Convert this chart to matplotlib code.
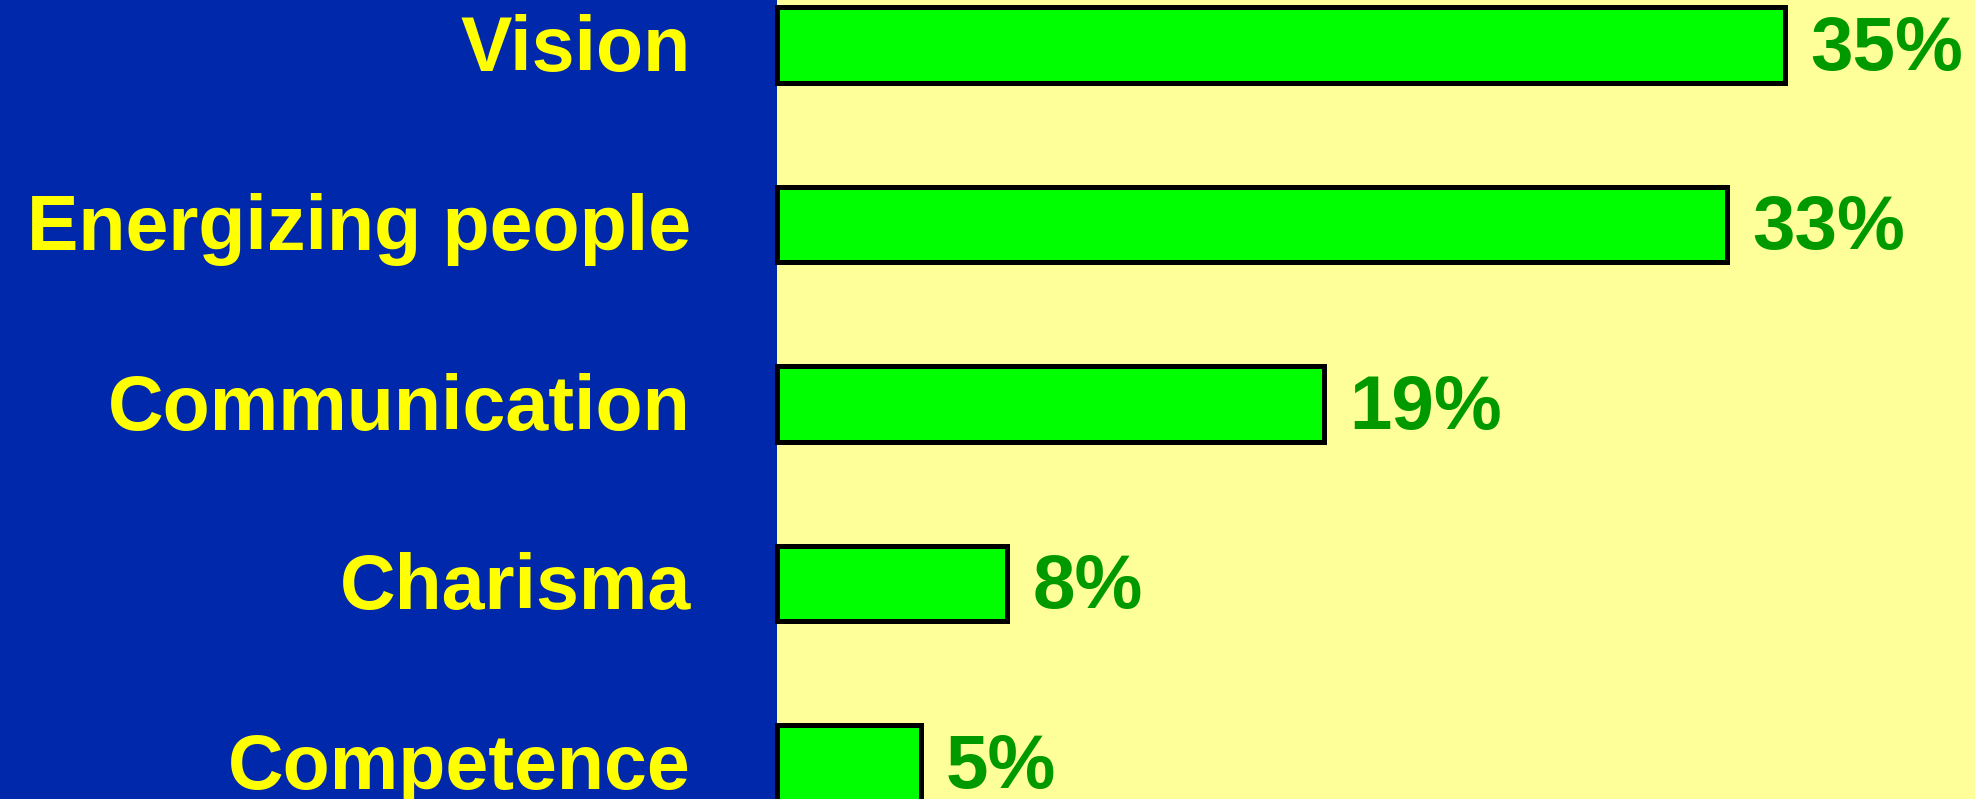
import numpy as np
import matplotlib.pyplot as plt
from matplotlib import rcParams
import matplotlib.transforms as mtransforms
rcParams["font.family"] = "Liberation Sans"

categories = ["Vision", "Energizing people", "Communication", "Charisma", "Competence"]
values = [35, 33, 19, 8, 5]

fig = plt.figure(figsize=(19.75, 7.99), dpi=100, facecolor="#0028AA")
ax = fig.add_axes([777/1975, 0, 1 - 777/1975, 1])
ax.set_facecolor("#FFFF99")

y = np.arange(len(categories))
ax.barh(y, values, height=0.42, color="#00FF00", edgecolor="black",
        linewidth=3.6, clip_on=False)

for yi, v in zip(y, values):
    ax.annotate(f"{v}%", (v, yi), xytext=(18, 2), textcoords="offset points",
                va="center_baseline", ha="left", color="#009900",
                fontsize=55, fontweight="bold")

ax.set_xlim(0, 41.6)
ax.set_ylim(4.2, -0.25)
ax.set_xticks([])
ax.set_yticks(y)
ax.set_yticklabels(categories, fontsize=55.5, fontweight="bold", color="#FFFF00")
ax.tick_params(axis="y", length=0, pad=62)
# nudge labels up a little, like the original
shift = mtransforms.ScaledTranslation(0, 2/72, fig.dpi_scale_trans)
for lab in ax.get_yticklabels():
    lab.set_transform(lab.get_transform() + shift)
for s in ax.spines.values():
    s.set_visible(False)

fig.savefig("out.png", dpi=100, facecolor=fig.get_facecolor())
